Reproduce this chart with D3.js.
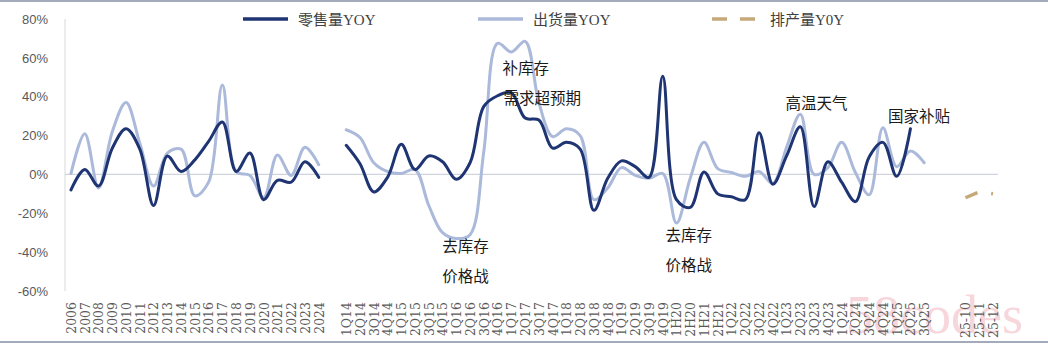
<!DOCTYPE html>
<html>
<head>
<meta charset="utf-8">
<script src="https://cdn.jsdelivr.net/npm/d3@7"></script>
<style>
  body { margin: 0; background: #fff; }
</style>
</head>
<body>
<div id="chart"></div>
<script>
// categories
var years = ["2006","2007","2008","2009","2010","2011","2012","2013","2014","2015",
             "2016","2017","2018","2019","2020","2021","2022","2023","2024"];
var quarters = ["1Q14","2Q14","3Q14","4Q14","1Q15","2Q15","3Q15","4Q15","1Q16","2Q16",
                "3Q16","4Q16","1Q17","2Q17","3Q17","4Q17","1Q18","2Q18","3Q18","4Q18",
                "1Q19","2Q19","3Q19","4Q19","1H20","2H20","1H21","2H21","1Q22","2Q22",
                "3Q22","4Q22","1Q23","2Q23","3Q23","4Q23","1Q24","2Q24","3Q24","4Q24",
                "1Q25","2Q25","3Q25"];
var months = ["25-10","25-11","25-12"];

// values (%)
var retailYear = [-8, 2.5, -6, 13.5, 23.5, 13, -16, 9.5, 1.5, 7.5, 17, 27, 1.5, 11, -13, -3, -4, 6.5, -1.5];
var shipYear   = [0.5, 21, -7, 22, 37, 16, -6, 11, 13, -11, -4, 46, 1.5, -0.5, -12, 10, -0.5, 14, 5];
var retailQuarter = [15, 5.5, -9, -1.5, 15.5, 2.5, 9.5, 6.5, -2.5, 6,
                     35, 40.5, 42, 29, 28, 13.5, 16.5, 13, -18.5, -2,
                     7, 4, -1.5, 50.5, -13, -17, 1.3, -10, -11.5, -13,
                     21.5, -5, 9.5, 24.5, -16.5, 6.5, -4, -14, 9, 16.5,
                     -1, 23.5, null];
var shipQuarter = [23, 19, 6, 1.5, 0.5, 2.5, -16, -30, -33, -31,
                   12, 67.5, 63, 68.5, 37, 19.5, 23.5, 20, -13, -7,
                   3.5, -0.5, -2, 0.5, -25, -2, 16.5, 3, 1, -1,
                   1.5, -4.7, 14, 31, 0, 3.5, 16.5, 1, -10.5, 24,
                   4, 12, 6];
var prodMonth = [-12, -9, -10];
var yTicks = [-60, -40, -20, 0, 20, 40, 60, 80];

var annotations = [
  {text: "补库存", cat: "4Q16", dx: 5, y: 74},
  {text: "需求超预期", cat: "4Q16", dx: 6, y: 104},
  {text: "去库存", cat: "1Q16", dx: -14, y: 252},
  {text: "价格战", cat: "1Q16", dx: -14, y: 282},
  {text: "去库存", cat: "1H20", dx: -11, y: 241},
  {text: "价格战", cat: "1H20", dx: -11, y: 271},
  {text: "高温天气", cat: "1Q23", dx: -1, y: 109},
  {text: "国家补贴", cat: "4Q24", dx: 5, y: 122}
];

// canvas
var width = 1048;
var height = 344;

var svg = d3.select("#chart")
            .append("svg")
            .attr("width", width)
            .attr("height", height);

var darkBlue = "#1f3573";
var lightBlue = "#abb9da";
var tan = "#c6a978";

// scales
var cats = years.concat(["_g1"], quarters, ["_g2", "_g3"], months);
var x = d3.scalePoint()
          .domain(cats)
          .range([71, 993]);
var y = d3.scaleLinear()
          .domain([-60, 80])
          .range([291, 19]);

// frame lines top / bottom
svg.append("line").attr("x1", 0).attr("x2", width).attr("y1", 1).attr("y2", 1)
   .attr("stroke", "#a3abbb").attr("stroke-width", 2);
svg.append("line").attr("x1", 0).attr("x2", width).attr("y1", 342).attr("y2", 342)
   .attr("stroke", "#a3abbb").attr("stroke-width", 2);

// watermark
svg.append("text")
   .attr("x", 846)
   .attr("y", 333)
   .attr("font-family", "Liberation Serif")
   .attr("font-size", 54)
   .attr("fill", "#eea7b2")
   .attr("opacity", 0.45)
   .text("58codes");

// y axis
var yAxis = d3.axisLeft(y)
              .tickValues(yTicks)
              .tickSize(0)
              .tickPadding(17)
              .tickFormat(d => d + "%");
var gy = svg.append("g")
            .attr("transform", "translate(65,0)")
            .call(yAxis);
gy.select(".domain").attr("stroke", "#d9d9d9").attr("d", "M0," + y(80) + "V" + y(-60));
gy.selectAll("text")
  .attr("font-family", "Liberation Sans")
  .attr("font-size", 13)
  .attr("fill", "#595959");

// zero line
svg.append("line")
   .attr("x1", 65)
   .attr("x2", 998)
   .attr("y1", y(0))
   .attr("y2", y(0))
   .attr("stroke", "#d0d4de")
   .attr("stroke-width", 1.3);

// x axis labels
var xAxis = d3.axisBottom(x)
              .tickSize(0)
              .tickFormat(d => d.charAt(0) == "_" ? "" : d);
var gx = svg.append("g")
            .attr("transform", "translate(0,298)")
            .call(xAxis);
gx.select(".domain").remove();
gx.selectAll("text")
  .attr("font-family", "DejaVu Serif")
  .attr("font-size", 12.5)
  .attr("fill", "#595959")
  .attr("text-anchor", "end")
  .attr("transform", "rotate(-90)")
  .attr("x", -4)
  .attr("y", 0)
  .attr("dy", "0.35em");

// line generator
var line = d3.line()
             .defined(d => d.v != null)
             .x(d => x(d.c))
             .y(d => y(d.v))
             .curve(d3.curveCatmullRom);

function pairs(labels, values) {
    return labels.map((c, i) => ({c: c, v: values[i]}));
}

var series = [
    {data: pairs(years, shipYear), color: lightBlue, w: 3},
    {data: pairs(quarters, shipQuarter), color: lightBlue, w: 3},
    {data: pairs(years, retailYear), color: darkBlue, w: 3},
    {data: pairs(quarters, retailQuarter), color: darkBlue, w: 3}
];

svg.append("g")
   .selectAll("path")
   .data(series)
   .enter()
   .append("path")
   .attr("d", d => line(d.data))
   .attr("fill", "none")
   .attr("stroke", d => d.color)
   .attr("stroke-width", d => d.w)
   .attr("stroke-linejoin", "round")
   .attr("stroke-linecap", "round");

// production dashed line
svg.append("path")
   .attr("d", d3.line().x(d => x(d.c)).y(d => y(d.v))(pairs(months, prodMonth)))
   .attr("fill", "none")
   .attr("stroke", tan)
   .attr("stroke-width", 3.5)
   .attr("stroke-dasharray", "13,14");

// annotations
svg.append("g")
   .selectAll("text")
   .data(annotations)
   .enter()
   .append("text")
   .attr("x", d => x(d.cat) + d.dx)
   .attr("y", d => d.y)
   .attr("font-family", "Noto Sans CJK SC")
   .attr("font-size", 15.5)
   .attr("fill", "#1a1a1a")
   .text(d => d.text);

// legend
var legend = [
    {name: "零售量YOY", x: 243, color: darkBlue, dash: null},
    {name: "出货量YOY", x: 478, color: lightBlue, dash: null},
    {name: "排产量Y0Y", x: 712, color: tan, dash: "15,13"}
];
var lg = svg.append("g")
            .selectAll("g")
            .data(legend)
            .enter()
            .append("g");
lg.append("line")
  .attr("x1", d => d.x)
  .attr("x2", d => d.x + 45)
  .attr("y1", 19)
  .attr("y2", 19)
  .attr("stroke", d => d.color)
  .attr("stroke-width", 3.5)
  .attr("stroke-dasharray", d => d.dash);
lg.append("text")
  .attr("x", d => d.x + (d.dash ? 58 : 55))
  .attr("y", 24.5)
  .attr("font-family", "Noto Sans CJK SC")
  .attr("font-size", 15)
  .attr("fill", "#404040")
  .each(function(d) {
      var t = d3.select(this);
      t.append("tspan").text(d.name.slice(0, 3));
      t.append("tspan").attr("font-family", "Liberation Serif").text(d.name.slice(3));
  });
</script>
</body>
</html>
